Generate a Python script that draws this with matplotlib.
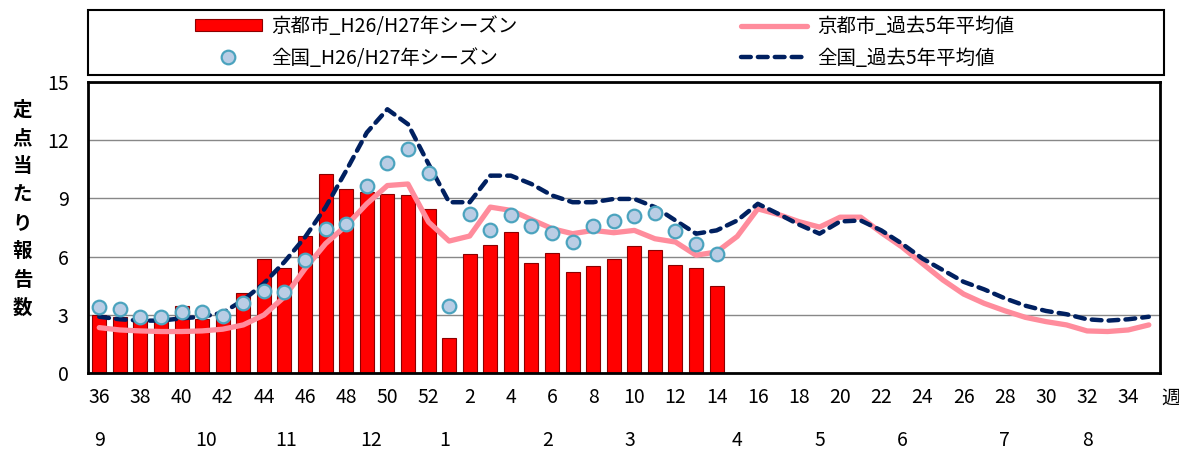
import matplotlib.pyplot as plt
import matplotlib.transforms as mtransforms
from matplotlib.patches import Rectangle

plt.rcParams['font.family'] = ['Noto Sans CJK JP', 'DejaVu Sans']

# week numbers on the x axis (36 .. 52, 1 .. 35)
weeks = list(range(36, 53)) + list(range(1, 36))

# 京都市 H26/H27 season (bars), week 36 .. week 14
kyoto_season = [3.0, 2.9, 2.7, 2.65, 3.45, 2.8, 2.9, 4.14, 5.86, 5.4,
                7.04, 10.26, 9.5, 9.35, 9.25, 9.15, 8.43, 1.83, 6.12, 6.58,
                7.26, 5.69, 6.17, 5.23, 5.49, 5.9, 6.53, 6.32, 5.56, 5.4,
                4.48]

# 全国 H26/H27 season (markers)
national_season = [3.42, 3.3, 2.9, 2.9, 3.13, 3.13, 2.94, 3.59, 4.22, 4.19,
                   5.81, 7.4, 7.66, 9.62, 10.82, 11.52, 10.29, 3.47, 8.2, 7.38,
                   8.12, 7.56, 7.21, 6.75, 7.56, 7.81, 8.07, 8.24, 7.3, 6.63,
                   6.12]

# 京都市 past 5 year average
kyoto_avg = [2.34, 2.22, 2.17, 2.14, 2.14, 2.17, 2.26, 2.48, 2.99, 3.93,
             5.38, 6.67, 7.6, 8.72, 9.66, 9.74, 7.78, 6.8, 7.06, 8.55,
             8.38, 7.91, 7.44, 7.18, 7.35, 7.23, 7.35, 6.92, 6.75, 6.07,
             6.24, 7.04, 8.46, 8.17, 7.8, 7.52, 8.03, 8.03, 7.23, 6.5,
             5.64, 4.79, 4.07, 3.59, 3.21, 2.87, 2.65, 2.48, 2.17, 2.14,
             2.22, 2.48]

# 全国 past 5 year average
national_avg = [2.9, 2.77, 2.7, 2.7, 2.82, 2.9, 3.11, 3.76, 4.62, 5.73,
                7.0, 8.55, 10.43, 12.39, 13.59, 12.82, 10.77, 8.8, 8.8, 10.17,
                10.17, 9.74, 9.15, 8.8, 8.8, 8.97, 8.97, 8.55, 7.86, 7.18,
                7.35, 7.86, 8.72, 8.2, 7.65, 7.18, 7.81, 7.86, 7.35, 6.67,
                5.9, 5.3, 4.7, 4.31, 3.85, 3.47, 3.2, 3.03, 2.77, 2.7,
                2.77, 2.9]

month_labels = ['9', '10', '11', '12', '1', '2', '3', '4', '5', '6', '7', '8']
month_pos = [0, 5.2, 9.1, 13.2, 16.8, 21.8, 25.8, 31, 35, 39, 44, 48]

FS = 14

fig = plt.figure(figsize=(11.79, 4.5), dpi=100)
ax = fig.add_axes([0.0746, 0.171, 0.9094, 0.647])

x_all = list(range(len(weeks)))
x_season = x_all[:len(kyoto_season)]

b = ax.bar(x_season, kyoto_season, width=0.68, color='#FF0000',
           edgecolor='#8B0000', linewidth=0.8, zorder=2)
l_kavg, = ax.plot(x_all, kyoto_avg, color='#FF8C9C', linewidth=3.8,
                  solid_capstyle='round', zorder=3)
l_navg, = ax.plot(x_all, national_avg, color='#002060', linewidth=3.2,
                  dashes=(2.2, 1.6), dash_capstyle='round', zorder=4)
l_nat, = ax.plot(x_season, national_season, linestyle='none', marker='o',
                 markersize=9.8, markerfacecolor='#B9CDE5',
                 markeredgecolor='#4BA3BE', markeredgewidth=1.6, zorder=5)

ax.set_xlim(-0.55, len(weeks) - 0.45)
ax.set_ylim(0, 15)
ax.set_yticks([0, 3, 6, 9, 12, 15])
ax.yaxis.grid(True, color='#888888', linewidth=1.0, zorder=0)
ax.set_axisbelow(True)

tick_idx = x_all[::2]
ax.set_xticks(tick_idx)
ax.set_xticklabels([str(weeks[i]) for i in tick_idx])
ax.tick_params(axis='both', length=0, labelsize=FS)
ax.tick_params(axis='x', pad=10)
ax.tick_params(axis='y', pad=14)

for s in ax.spines.values():
    s.set_linewidth(2.0)
    s.set_color('black')

trans = mtransforms.blended_transform_factory(ax.transData, ax.transAxes)
for lab, p in zip(month_labels, month_pos):
    ax.text(p, -0.23, lab, transform=trans, ha='center', va='center',
            fontsize=FS)
ax.text(len(weeks) - 0.45 + 0.05, -0.085, '週', transform=trans,
        ha='left', va='center', fontsize=FS)

fig.text(0.019, 0.535, '\n'.join('定点当たり報告数'), ha='center',
         va='center', fontsize=FS, fontweight='bold', linespacing=1.62)

# legend frame spans the plot width, entries sit in the middle
fig.patches.append(Rectangle((0.0746, 0.833), 0.913, 0.145,
                             transform=fig.transFigure, fill=False,
                             edgecolor='black', linewidth=1.5))
fig.legend([b, l_nat, l_kavg, l_navg],
           ['京都市_H26/H27年シーズン', '全国_H26/H27年シーズン',
            '京都市_過去5年平均値', '全国_過去5年平均値'],
           ncol=2, loc='center', bbox_to_anchor=(0.513, 0.9055),
           fontsize=FS, frameon=False, handlelength=3.4, borderpad=0.2,
           labelspacing=0.55, columnspacing=11.5, handleheight=0.6,
           handletextpad=0.5)

fig.savefig('out.png', dpi=100)
